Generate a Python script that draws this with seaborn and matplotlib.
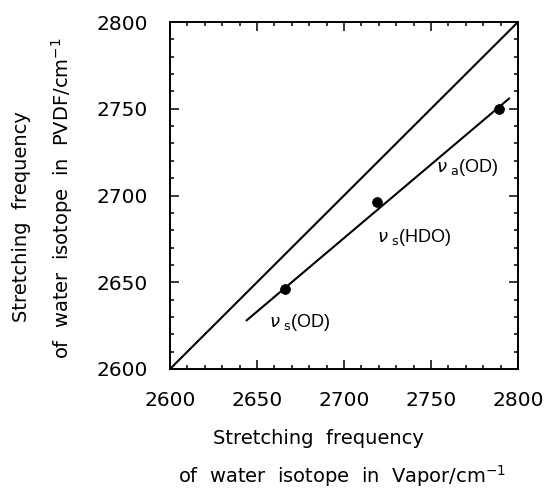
import matplotlib
matplotlib.use("Agg")
from matplotlib import pyplot as plt
from matplotlib.ticker import MultipleLocator
import pandas as pd
import seaborn as sns

# measured points (vapor vs PVDF)
vapor = [2666, 2719, 2789]
pvdf = [2646, 2696, 2750]

# fitted line and y = x reference
fit_x = [2644, 2795]
fit_y = [2628, 2756]
diag = [2600, 2800]

labels = [r"$\mathit{\nu}_{\ \mathrm{s}}$(OD)", r"$\mathit{\nu}_{\ \mathrm{s}}$(HDO)",
          r"$\mathit{\nu}_{\ \mathrm{a}}$(OD)"]
label_x = [2657, 2719, 2753]
label_y = [2627, 2676, 2716]

sns.set_style("ticks")
plt.rcParams['font.family'] = ['DejaVu Sans']
plt.rcParams['mathtext.default'] = 'regular'
for k in ['text.color', 'axes.labelcolor', 'xtick.color', 'ytick.color',
          'axes.edgecolor']:
    plt.rcParams[k] = 'black'

df = pd.DataFrame({'vapor': vapor, 'pvdf': pvdf})

fig = plt.figure(figsize=(5.49, 4.88), dpi=100)
ax = fig.add_axes([170 / 549, 1 - 369 / 488, 348 / 549, 347 / 488])

sns.lineplot(x=diag, y=diag, color='black', linewidth=1.5, ax=ax)
sns.lineplot(x=fit_x, y=fit_y, color='black', linewidth=1.5, ax=ax)
sns.scatterplot(data=df, x='vapor', y='pvdf', color='black', s=50,
                edgecolor='black', ax=ax, zorder=5)

for t, x, y in zip(labels, label_x, label_y):
    ax.text(x, y, t, fontsize=13, ha='left', va='center',
            family=['Liberation Sans', 'DejaVu Sans'])

ax.set_xlim(2600, 2800)
ax.set_ylim(2600, 2800)
ax.xaxis.set_major_locator(MultipleLocator(50))
ax.yaxis.set_major_locator(MultipleLocator(50))
ax.xaxis.set_minor_locator(MultipleLocator(10))
ax.yaxis.set_minor_locator(MultipleLocator(10))
ax.tick_params(which='both', direction='in', top=True, right=True, width=1.1)
ax.tick_params(which='major', length=6.5, labelsize=14.5)
ax.tick_params(axis='x', which='major', pad=16)
ax.tick_params(axis='y', which='major', pad=16)
ax.tick_params(which='minor', length=3)
for s in ax.spines.values():
    s.set_linewidth(1.4)
ax.set_xlabel('')
ax.set_ylabel('')

fig.text(318 / 549, 1 - 438 / 488, 'Stretching  frequency', fontsize=14,
         ha='center', va='center')
fig.text(342 / 549, 1 - 476 / 488, r'of  water  isotope  in  Vapor/cm$^{-1}$',
         fontsize=14, ha='center', va='center')
fig.text(22 / 549, 1 - 217 / 488, 'Stretching  frequency', fontsize=14,
         ha='center', va='center', rotation=90)
fig.text(62 / 549, 1 - 198 / 488, r'of  water  isotope  in  PVDF/cm$^{-1}$',
         fontsize=14, ha='center', va='center', rotation=90)

fig.savefig('out.png', dpi=100)
